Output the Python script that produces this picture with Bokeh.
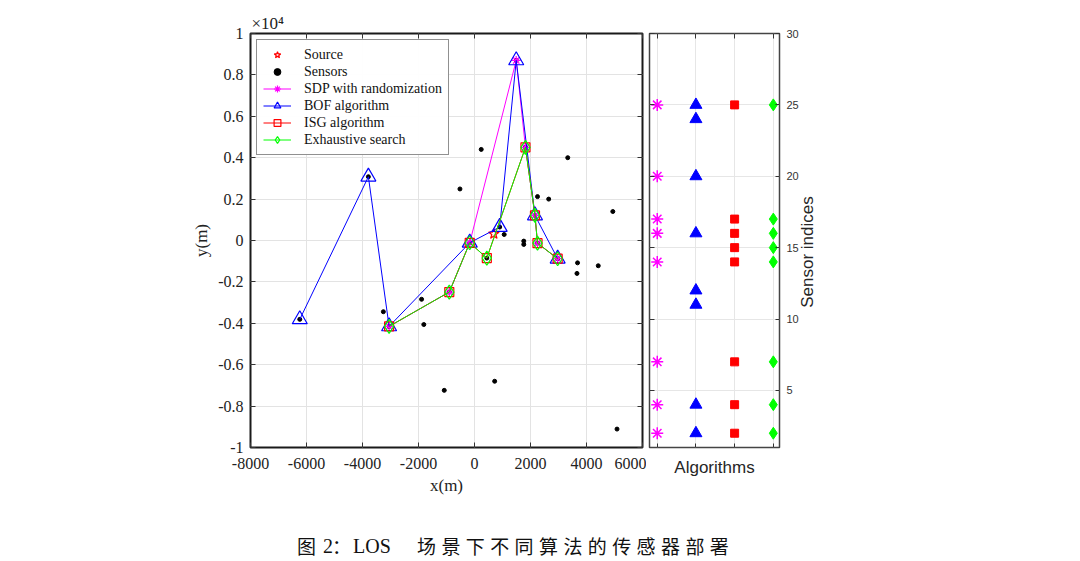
from bokeh.plotting import figure
from bokeh.models import Range1d, FixedTicker, LinearAxis, Div, Spacer
from bokeh.layouts import row, column
from bokeh.embed import file_html
from bokeh.resources import INLINE

# Sensor positions in metres; sensor k sits at list position k-1
sensor_x = [-1080, -3050, -1890, -170, -1810, -520, -900, 720, 1060, 1760,
            -6240, -3790, -3255, 1820, 440, 2160, 2250, 1760, 2250, 1490,
            2650, 3330, 3680, 900, 2970, 3660, 4420, 4940, 240, 5090]
sensor_y = [-7240, -4150, -2840, -110, -4060, 2490, -2490, -6800, 290, -30,
            -3810, 3080, -3440, 4500, -850, 1210, -130, -190, 2120, 8700,
            2000, 4000, -1080, 650, -880, -1590, -1220, 1400, 4400, -9110]

source_x = [690]
source_y = [320]

# Sensor indices chosen by each algorithm
sdp_sel = [2, 4, 7, 14, 16, 17, 20, 25]
bof_sel = [2, 4, 11, 12, 16, 20, 24, 25]
isg_sel = [2, 4, 7, 14, 15, 16, 17, 25]
exh_sel = [2, 4, 7, 14, 15, 16, 17, 25]

algo_pos = [1, 2, 3, 4]

x_ticks = [-8000, -6000, -4000, -2000, 0, 2000, 4000, 6000]
y_ticks = [-10000, -8000, -6000, -4000, -2000, 0, 2000, 4000, 6000, 8000, 10000]
y_tick_labels = ["-1", "-0.8", "-0.6", "-0.4", "-0.2", "0", "0.2", "0.4", "0.6", "0.8", "1"]
idx_ticks = [5, 10, 15, 20, 25, 30]

SERIF = "Liberation Serif"
SANS = "Liberation Sans"
MAGENTA, BLUE, RED, GREEN = "#ff00ff", "#0000ff", "#ff0000", "#00ff00"

FIG_H = 503


def path(sel):
    pts = sorted((sensor_x[i - 1], sensor_y[i - 1]) for i in sel)
    return [a for a, _ in pts], [b for _, b in pts]


def tick_only_axis(ticks):
    return LinearAxis(ticker=FixedTicker(ticks=ticks), major_label_text_font_size="0px",
                      major_label_standoff=0, major_tick_in=5, major_tick_out=0,
                      minor_tick_line_color=None, axis_line_color=None,
                      major_tick_line_color="#333333")


# ---------------- left panel: positions ----------------
p = figure(frame_width=392, frame_height=414, title="×10⁴",
           x_range=Range1d(-8000, 6000), y_range=Range1d(-10000, 10000),
           min_border_left=62, min_border_right=4, min_border_top=33, min_border_bottom=56,
           output_backend="svg", toolbar_location=None)
p.title.align = "left"
p.title.offset = 1
p.title.standoff = 2
p.title.text_font = SERIF
p.title.text_font_size = "17px"
p.title.text_font_style = "normal"
p.title.text_color = "#222222"
p.outline_line_color = "#1a1a1a"
p.outline_line_width = 2

p.xaxis.ticker = FixedTicker(ticks=x_ticks)
p.xaxis.major_label_overrides = {t: str(t) for t in x_ticks}
p.yaxis.ticker = FixedTicker(ticks=y_ticks)
p.yaxis.major_label_overrides = {t: s for t, s in zip(y_ticks, y_tick_labels)}
p.xaxis.axis_label = "x(m)"
p.yaxis.axis_label = "y(m)"
for ax in (p.xaxis[0], p.yaxis[0]):
    ax.major_label_text_font = SERIF
    ax.major_label_text_font_size = "16px"
    ax.major_label_text_color = "#222222"
    ax.axis_label_text_font = SERIF
    ax.axis_label_text_font_size = "17px"
    ax.axis_label_text_font_style = "normal"
    ax.axis_label_text_color = "#222222"
    ax.axis_label_standoff = 4
    ax.major_tick_in = 5
    ax.major_tick_out = 0
    ax.major_tick_line_color = "#333333"
    ax.minor_tick_line_color = None
    ax.axis_line_color = None
p.xaxis.major_label_standoff = 10
p.yaxis.major_label_standoff = 7
p.add_layout(tick_only_axis(x_ticks), "above")
p.add_layout(tick_only_axis(y_ticks), "right")
p.xgrid.grid_line_color = "#e3e3e3"
p.ygrid.grid_line_color = "#e3e3e3"

p.scatter(source_x, source_y, marker="star", size=11, fill_color=None,
          line_color=RED, line_width=1.2, legend_label="Source")
p.scatter(sensor_x, sensor_y, marker="circle", size=4, color="black",
          legend_label="Sensors")

sx, sy = path(sdp_sel)
p.line(sx, sy, line_color=MAGENTA, line_width=1, legend_label="SDP with randomization")
p.scatter(sx, sy, marker="asterisk", size=9, line_color=MAGENTA, line_width=1.2,
          legend_label="SDP with randomization")

bx, by = path(bof_sel)
p.line(bx, by, line_color=BLUE, line_width=1, legend_label="BOF algorithm")
p.scatter(bx, by, marker="triangle", size=15, fill_color=None, line_color=BLUE,
          line_width=1.2, legend_label="BOF algorithm")

ix, iy = path(isg_sel)
p.line(ix, iy, line_color=RED, line_width=1, legend_label="ISG algorithm")
p.scatter(ix, iy, marker="square", size=9, fill_color=None, line_color=RED,
          line_width=1.2, legend_label="ISG algorithm")

ex, ey = path(exh_sel)
p.line(ex, ey, line_color=GREEN, line_width=1, legend_label="Exhaustive search")
p.scatter(ex, ey, marker="diamond", size=14, fill_color=None, line_color=GREEN,
          line_width=1.2, legend_label="Exhaustive search")

lg = p.legend[0]
lg.location = "top_left"
lg.margin = 6
lg.padding = 6
lg.spacing = 0
lg.glyph_width = 28
lg.glyph_height = 17
lg.label_height = 17
lg.label_standoff = 13
lg.label_text_font = SERIF
lg.label_text_font_size = "14px"
lg.label_text_color = "#111111"
lg.border_line_color = "#222222"
lg.border_line_width = 1.5

# ---------------- right panel: selected sensor indices ----------------
q = figure(frame_width=130, frame_height=414, title=None,
           x_range=Range1d(0.8, 4.16), y_range=Range1d(1, 30), y_axis_location="right",
           min_border_left=3, min_border_right=22, min_border_top=33, min_border_bottom=56,
           output_backend="svg", toolbar_location=None)
q.outline_line_color = "#444444"
q.outline_line_width = 1.5
q.xaxis.ticker = FixedTicker(ticks=algo_pos)
q.yaxis.ticker = FixedTicker(ticks=idx_ticks)
q.xaxis.major_label_text_font_size = "0px"
q.xaxis.major_label_standoff = 0
q.xaxis.axis_label = "Algorithms"
q.xaxis.axis_label_standoff = 10
q.yaxis.major_label_text_font = SANS
q.yaxis.major_label_text_font_size = "11px"
q.yaxis.major_label_text_color = "#333333"
q.yaxis.major_label_standoff = 7
for ax in (q.xaxis[0], q.yaxis[0]):
    ax.axis_label_text_font = SANS
    ax.axis_label_text_font_size = "17px"
    ax.axis_label_text_font_style = "normal"
    ax.axis_label_text_color = "#262626"
    ax.major_tick_in = 4
    ax.major_tick_out = 0
    ax.major_tick_line_color = "#333333"
    ax.minor_tick_line_color = None
    ax.axis_line_color = None
q.add_layout(tick_only_axis(algo_pos), "above")
q.add_layout(tick_only_axis(idx_ticks), "left")
q.xgrid.grid_line_color = "#e6e6e6"
q.ygrid.grid_line_color = "#e6e6e6"

q.scatter([algo_pos[0]] * len(sdp_sel), sdp_sel, marker="asterisk", size=12,
          line_color=MAGENTA, line_width=1.5)
q.scatter([algo_pos[1]] * len(bof_sel), bof_sel, marker="triangle", size=12,
          fill_color=BLUE, line_color=BLUE)
q.scatter([algo_pos[2]] * len(isg_sel), isg_sel, marker="square", size=8,
          fill_color=RED, line_color=RED)
q.scatter([algo_pos[3]] * len(exh_sel), exh_sel, marker="diamond", size=12,
          fill_color=GREEN, line_color=GREEN)

# vertical title of the index axis, reading bottom to top
index_title = Div(
    text=("<div style=\"position:relative;width:277px;height:503px;\">"
          "<div style=\"position:absolute;left:-98px;top:237px;width:200px;height:20px;"
          "line-height:20px;text-align:center;transform:rotate(-90deg);"
          "font-family:'Liberation Sans';font-size:17px;color:#262626;white-space:nowrap;\">"
          "Sensor indices</div></div>"),
    width=277, height=FIG_H)

# figure caption: CJK parts in Noto Sans CJK, Latin parts in a serif face
CJK = "font-family:'Noto Sans CJK SC';font-size:19px;"
LAT = "font-family:'Liberation Serif';font-size:20px;"
SPAN = "position:absolute;top:17px;line-height:22px;white-space:nowrap;color:#111;"
caption = Div(
    text=("<div style=\"position:relative;width:1080px;height:58px;\">"
          f"<span style=\"{SPAN}{CJK}left:292px;\">图</span>"
          f"<span style=\"{SPAN}{LAT}left:318px;\">2</span>"
          f"<span style=\"{SPAN}{CJK}left:327px;\">：</span>"
          f"<span style=\"{SPAN}{LAT}left:348px;\">LOS</span>"
          f"<span style=\"{SPAN}{CJK}left:412px;letter-spacing:5.4px;\">场景下不同算法的传感器部署</span>"
          "</div>"),
    width=1080, height=561 - FIG_H)

layout = column(row(Spacer(width=188, height=FIG_H), p, q, index_title), caption)

open("out.html", "w").write(file_html(layout, INLINE))
